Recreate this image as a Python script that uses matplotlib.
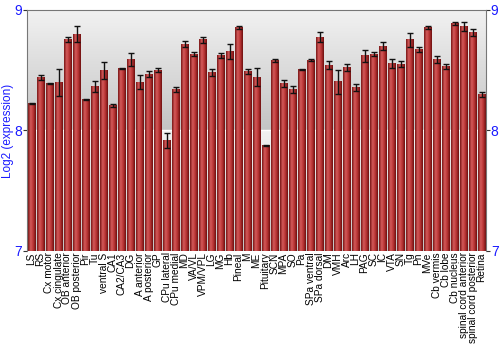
import numpy as np
import matplotlib
matplotlib.use('Agg')
from matplotlib import pyplot as plt
from matplotlib.colors import LinearSegmentedColormap

plt.rcParams['font.family'] = ['Liberation Sans', 'DejaVu Sans']

regions = ['LS', 'RS', 'Cx motor', 'Cx cingulate', 'OB anterior', 'OB posterior',
           'Pir', 'Tu', 'ventral S', 'CA1', 'CA2/CA3', 'DG', 'A anterior',
           'A posterior', 'GP', 'CPu lateral', 'CPu medial', 'MD', 'VA/VL',
           'VPM/VPL', 'LG', 'MG', 'Hb', 'Pineal', 'M', 'ME', 'Pituitary', 'SCN',
           'MPA', 'SO', 'Pa', 'SPa ventral', 'SPa dorsal', 'DM', 'VMH', 'Arc',
           'LH', 'PAG', 'SC', 'IC', 'VTA', 'SN', 'Tg', 'Pn', 'MVe', 'Cb vermis',
           'Cb lobe', 'Cb nucleus', 'spinal cord anterior',
           'spinal cord posterior', 'Retina']
expression = [8.222, 8.436, 8.389, 8.397, 8.756, 8.797, 8.256, 8.361, 8.500,
              8.206, 8.517, 8.589, 8.400, 8.464, 8.500, 7.917, 8.336, 8.714,
              8.631, 8.750, 8.483, 8.622, 8.653, 8.856, 8.486, 8.439, 7.875,
              8.580, 8.389, 8.339, 8.508, 8.583, 8.772, 8.542, 8.403, 8.519,
              8.356, 8.619, 8.633, 8.700, 8.556, 8.547, 8.750, 8.672, 8.853,
              8.589, 8.533, 8.883, 8.861, 8.814, 8.297]
error = [0.004, 0.020, 0.008, 0.110, 0.020, 0.065, 0.004, 0.045, 0.070,
         0.015, 0.004, 0.055, 0.060, 0.025, 0.015, 0.060, 0.020, 0.025,
         0.015, 0.025, 0.030, 0.020, 0.060, 0.012, 0.020, 0.075, 0.003,
         0.012, 0.030, 0.030, 0.004, 0.008, 0.040, 0.030, 0.100, 0.030,
         0.030, 0.050, 0.020, 0.035, 0.035, 0.025, 0.060, 0.020, 0.012,
         0.030, 0.020, 0.012, 0.035, 0.030, 0.020]

blue = '#1a1aff'
fig = plt.figure(figsize=(5, 3.5), dpi=100)
ax = fig.add_axes([0.054, 0.283, 0.918, 0.689])

n = len(regions)
x = np.arange(n)

# background bands: light on top, darker toward the bottom of each unit
bg = LinearSegmentedColormap.from_list('bg', ['#c4c4c4', '#f2f2f2'])
grad = np.linspace(0, 1, 100).reshape(-1, 1)
for lo in (7, 8):
    ax.imshow(grad, cmap=bg, aspect='auto', origin='lower',
              extent=(-0.5, n - 0.5, lo, lo + 1), zorder=0)
ax.axhline(8, color='white', lw=1, zorder=1)

# bars with a horizontal red shading
red = LinearSegmentedColormap.from_list('red', ['#7a1616', '#d45a5a', '#b83434', '#6e1010'])
hgrad = np.linspace(0, 1, 50).reshape(1, -1)
w = 0.88
for xi, v in zip(x, expression):
    ax.imshow(hgrad, cmap=red, aspect='auto',
              extent=(xi - w / 2, xi + w / 2, 7, v), zorder=2)
ax.errorbar(x, expression, yerr=error, fmt='none', ecolor='#111111',
            elinewidth=1, capsize=2, capthick=1, zorder=3)
ax.set_xlim(-0.5, n - 0.5)
ax.set_ylim(7, 9)

ax.set_xticks(x)
ax.set_xticklabels(regions, rotation=90, fontsize=7.3)
ax.tick_params(axis='x', length=0, pad=1)
ax.set_yticks([7, 8, 9])
ax.tick_params(axis='y', labelcolor=blue, labelsize=10, length=3, pad=0.5,
               color='#333333', right=True, labelright=True)
ax.set_ylabel('Log2 (expression)', color=blue, fontsize=8.5)
ax.yaxis.set_label_coords(-0.028, 0.5)
for side in ('top', 'left', 'right'):
    ax.spines[side].set_color('#777777')
ax.spines['bottom'].set_visible(False)

fig.savefig('out.png', dpi=100)
